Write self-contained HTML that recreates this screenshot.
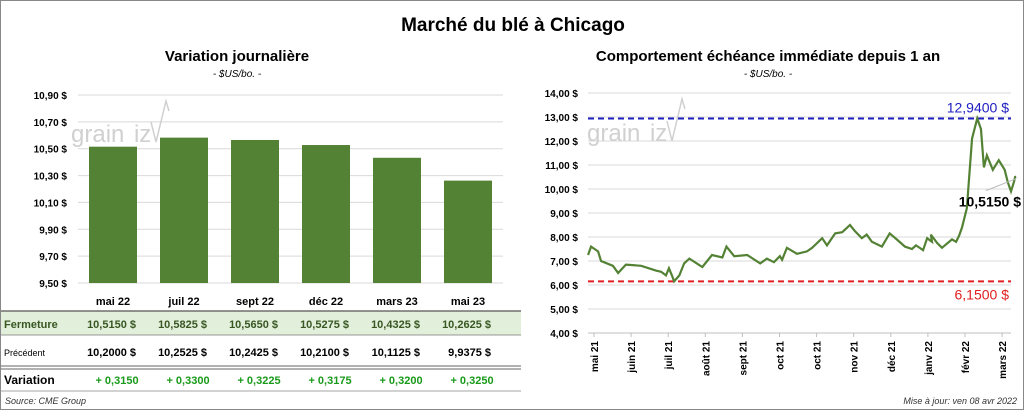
<!DOCTYPE html>
<html><head><meta charset="utf-8"><style>
body{margin:0;background:#fff;font-family:"Liberation Sans",Arial,sans-serif;}
#wrap{position:relative;width:1022px;height:408px;border:1px solid #888;overflow:hidden}
svg text{font-family:"Liberation Sans",Arial,sans-serif}
</style></head><body>
<div id="wrap">
<svg id="s" width="1022" height="408">
<text x="512" y="30" font-size="19" font-weight="bold" text-anchor="middle">Marché du blé à Chicago</text>
<text x="236" y="60" font-size="15" font-weight="bold" text-anchor="middle">Variation  journalière</text>
<text x="236" y="76" font-size="10" font-style="italic" text-anchor="middle">- $US/bo. -</text>
<text x="767" y="60" font-size="15" font-weight="bold" text-anchor="middle">Comportement  échéance immédiate depuis 1 an</text>
<text x="767" y="76" font-size="10" font-style="italic" text-anchor="middle">- $US/bo. -</text>
<g id="left"></g>
<g id="right"></g>
<g id="tbl"></g>
<text x="4" y="403" font-size="9" font-style="italic" fill="#333">Source: CME Group</text>
<text x="1016" y="403" font-size="9" font-style="italic" fill="#333" text-anchor="end">Mise à jour: ven 08 avr 2022</text>
</svg></div>
<script>
const barCats=["mai 22","juil 22","sept 22","déc 22","mars 23","mai 23"];
const closeVals=[10.5150,10.5825,10.5650,10.5275,10.4325,10.2625];
const prevVals=[10.2000,10.2525,10.2425,10.2100,10.1125,9.9375];
const barTicks=[9.5,9.7,9.9,10.1,10.3,10.5,10.7,10.9];
const lineMonths=["mai 21","juin 21","juil 21","août 21","sept 21","oct 21","oct 21","nov 21","déc 21","janv 22","févr 22","mars 22"];
const lineT=[-0.16,-0.08,0.11,0.19,0.51,0.65,0.86,1.27,1.67,1.81,1.94,2.02,2.1,2.16,2.3,2.43,2.57,2.92,3.18,3.46,3.57,3.78,4.13,4.48,4.66,4.85,5.01,5.07,5.2,5.47,5.74,5.88,6.15,6.28,6.5,6.69,6.9,7.03,7.22,7.35,7.49,7.76,7.97,8.16,8.38,8.57,8.68,8.87,8.98,9.11,9.08,9.25,9.38,9.65,9.76,9.84,9.92,10.05,10.19,10.33,10.43,10.51,10.59,10.75,10.91,11.07,11.15,11.24,11.32,11.35,11.38];
const lineV=[7.25,7.6,7.4,7.0,6.8,6.5,6.85,6.8,6.6,6.55,6.4,6.7,6.4,6.15,6.4,6.9,7.1,6.75,7.25,7.15,7.6,7.2,7.25,6.9,7.1,6.95,7.2,7.05,7.55,7.3,7.4,7.55,7.95,7.65,8.15,8.2,8.5,8.25,7.95,8.1,7.8,7.6,8.15,7.9,7.6,7.5,7.65,7.45,7.95,7.8,8.1,7.75,7.55,7.9,7.8,8.05,8.4,9.2,12.1,12.94,12.5,10.9,11.4,10.8,11.2,10.8,10.3,9.9,10.3,10.5,10.515];
const lineTicks=[4,5,6,7,8,9,10,11,12,13,14];
const maxLine=12.94, minLine=6.15, lastLine=10.515;

const NS="http://www.w3.org/2000/svg";
function mk(p,tag,at,txt){const e=document.createElementNS(NS,tag);for(const k in at)e.setAttribute(k,at[k]);if(txt!==undefined)e.textContent=txt;p.appendChild(e);return e;}
const fmt=(v,d)=>v.toFixed(d).replace('.',',');
// left
const L=document.getElementById('left');
const ly=v=>282-(v-9.5)/1.4*188, lx=i=>112+i*71;
barTicks.forEach(t=>{
 const g=mk(L,'line',{x1:77,x2:502,y1:ly(t),y2:ly(t),stroke:'#d9d9d9'});
 
 const tx=mk(L,'text',{x:66,y:ly(t)+4,'font-size':10,'font-weight':'bold','text-anchor':'end'},fmt(t,2)+' $');
 
});
mk(L,'text',{x:70,y:141,'font-size':24,fill:'#d0d0d0'},'grain\u2009\u2009iz');
mk(L,'path',{d:'M150 121 L155 141 L165 100 L168 110',stroke:'#d0d0d0',fill:'none','stroke-width':1.5});
closeVals.forEach((v,i)=>{
 const r=mk(L,'rect',{x:lx(i)-24,y:ly(v),width:48,height:282-ly(v),fill:'#548235'});
 
});
// table
const T=document.getElementById('tbl');
mk(T,'rect',{x:0,y:310,width:520,height:24,fill:'#e2efda'});
mk(T,'line',{x1:0,x2:520,y1:310,y2:310,stroke:'#555','stroke-width':1.2});
mk(T,'line',{x1:0,x2:520,y1:334,y2:334,stroke:'#777','stroke-width':0.8});
mk(T,'line',{x1:0,x2:520,y1:365,y2:365,stroke:'#666','stroke-width':1});
mk(T,'line',{x1:0,x2:520,y1:368,y2:368,stroke:'#666','stroke-width':1});
mk(T,'line',{x1:0,x2:520,y1:390,y2:390,stroke:'#888','stroke-width':0.8});
mk(T,'text',{x:3,y:327,'font-size':11,'font-weight':'bold',fill:'#385723'},'Fermeture');
mk(T,'text',{x:3,y:355,'font-size':9},'Précédent');
mk(T,'text',{x:3,y:383,'font-size':12,'font-weight':'bold'},'Variation');
barCats.forEach((c,i)=>{
 const x=lx(i);
 const h=mk(T,'text',{x:x,y:304,'font-size':11,'font-weight':'bold','text-anchor':'middle'},c);
 
 const a=mk(T,'text',{x:x+23,y:327,'font-size':11,'font-weight':'bold',fill:'#385723','text-anchor':'end'},fmt(closeVals[i],4)+'  $');
 
 a.setAttribute('xml:space','preserve');
 const b=mk(T,'text',{x:x+23,y:355,'font-size':11,'font-weight':'bold','text-anchor':'end'},fmt(prevVals[i],4)+'  $');
 
 const d=mk(T,'text',{x:x+4,y:383,'font-size':11,'font-weight':'bold',fill:'#1a9a1a','text-anchor':'middle'},'+ '+fmt(closeVals[i]-prevVals[i],4));
 
});
// right
const R=document.getElementById('right');
const ry=v=>332-(v-4)*24, rx=t=>593+t*37.1;
lineTicks.forEach(t=>{
 const g=mk(R,'line',{x1:587,x2:1010,y1:ry(t),y2:ry(t),stroke:'#d9d9d9'});
 
 const tx=mk(R,'text',{x:577,y:ry(t)+4,'font-size':10,'font-weight':'bold','text-anchor':'end'},fmt(t,2)+' $');
 
});
mk(R,'text',{x:586,y:140,'font-size':24,fill:'#d0d0d0'},'grain\u2009\u2009iz');
mk(R,'path',{d:'M666 120 L671 140 L681 98 L684 108',stroke:'#d0d0d0',fill:'none','stroke-width':1.5});
mk(R,'line',{x1:587,x2:1010,y1:332,y2:332,stroke:'#bfbfbf'});
lineMonths.forEach((m,i)=>{
 const x=rx(i);
 mk(R,'line',{x1:x,x2:x,y1:332,y2:336,stroke:'#bfbfbf'});
 const tx=mk(R,'text',{x:0,y:0,'font-size':10,'font-weight':'bold','text-anchor':'end',transform:`translate(${x+4},340) rotate(-90)`},m);
 
});
const hi=mk(R,'line',{x1:587,x2:1010,y1:ry(maxLine),y2:ry(maxLine),stroke:'#2020c0','stroke-width':2,'stroke-dasharray':'6,4'});

const lo=mk(R,'line',{x1:587,x2:1010,y1:ry(minLine),y2:ry(minLine),stroke:'#e02020','stroke-width':2,'stroke-dasharray':'6,4'});

const p=mk(R,'polyline',{points:lineT.map((t,i)=>rx(t)+','+ry(lineV[i])).join(' '),fill:'none',stroke:'#548235','stroke-width':2.2});

const a1=mk(R,'text',{x:1008,y:ry(maxLine)-6,'font-size':14,fill:'#2020c0','text-anchor':'end'},fmt(maxLine,4)+' $');

const a2=mk(R,'text',{x:1008,y:ry(minLine)+18,'font-size':14,fill:'#e02020','text-anchor':'end'},fmt(minLine,4)+' $');

const lx1=rx(lineT[lineT.length-1]);
mk(R,'line',{x1:lx1,y1:ry(lastLine)+2,x2:985,y2:ry(lastLine)+14,stroke:'#bbb'});
const a3=mk(R,'text',{x:1020,y:ry(lastLine)+30,'font-size':14,'font-weight':'bold','text-anchor':'end'},fmt(lastLine,4)+' $');

</script>
</body></html>
